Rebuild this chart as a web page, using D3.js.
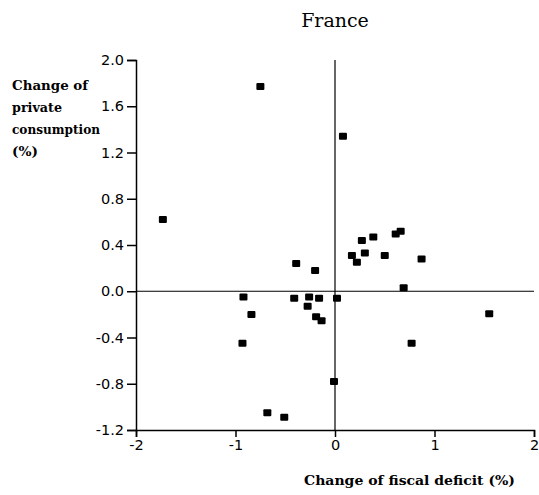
<!DOCTYPE html>
<html lang="en">
<head>
  <meta charset="UTF-8" />
  <title>France</title>
  <script src="https://d3js.org/d3.v7.min.js"></script>
  <style>
    body { margin: 0; background: white; }
    .tick text { font-family: "DejaVu Sans", Verdana, sans-serif; font-size: 14.5px; fill: black; }
    .axis path, .axis line { stroke: black; stroke-width: 1.5; }
    .label { font-family: "DejaVu Serif", serif; font-weight: bold; }
  </style>
</head>
<body>
  <div id="chart"></div>
  <script>
    // --- data: change of fiscal deficit (x) vs change of private consumption (y) ---
    const deficit = [-0.75, 0.08, -1.73, -0.39, -0.20, 0.27, 0.385, 0.61, 0.66, 0.17,
                     0.22, 0.30, 0.50, 0.87, 0.69, 1.55, -0.41, -0.26, -0.16, 0.02,
                     -0.275, -0.19, -0.135, 0.77, -0.01, -0.51, -0.92, -0.84, -0.93, -0.68];
    const consumption = [1.77, 1.34, 0.62, 0.24, 0.18, 0.44, 0.47, 0.495, 0.52, 0.31,
                         0.25, 0.33, 0.31, 0.28, 0.03, -0.195, -0.06, -0.05, -0.06, -0.06,
                         -0.13, -0.22, -0.255, -0.45, -0.78, -1.09, -0.05, -0.20, -0.45, -1.05];
    const xTicks = [-2, -1, 0, 1, 2];
    const yTicks = [-1.2, -0.8, -0.4, 0.0, 0.4, 0.8, 1.2, 1.6, 2.0];
    const yLabel = ["Change of", "private", "consumption", "(%)"];

    const points = deficit.map((d, i) => ({ x: d, y: consumption[i] }));

    // plain hyphen for negative numbers, like the original
    const locale = d3.formatLocale({ decimal: ".", thousands: ",", grouping: [3], currency: ["", ""], minus: "-" });

    const W = 539, H = 495;
    const svg = d3.select("#chart").append("svg")
      .attr("width", W).attr("height", H);

    const x = d3.scaleLinear().domain([-2, 2]).range([136, 534]);
    const y = d3.scaleLinear().domain([-1.2, 2.0]).range([430, 60]);

    // --- axes ---
    svg.append("g").attr("class", "axis")
      .attr("transform", `translate(${x(-2)},0)`)
      .call(d3.axisLeft(y).tickValues(yTicks).tickFormat(locale.format(".1f"))
        .tickSizeOuter(0).tickSize(9).tickPadding(3));

    svg.append("g").attr("class", "axis")
      .attr("transform", `translate(0,${y(-1.2)})`)
      .call(d3.axisBottom(x).tickValues(xTicks).tickFormat(locale.format("d"))
        .tickSizeOuter(0).tickSize(7).tickPadding(3));

    // --- zero cross lines ---
    svg.append("line")
      .attr("x1", x(-2)).attr("x2", x(2))
      .attr("y1", y(0)).attr("y2", y(0))
      .attr("stroke", "black").attr("stroke-width", 1.2);
    svg.append("line")
      .attr("x1", x(0)).attr("x2", x(0))
      .attr("y1", y(2.0)).attr("y2", y(-1.2))
      .attr("stroke", "black").attr("stroke-width", 1.2);

    // --- markers ---
    svg.selectAll(".dot").data(points).enter().append("rect")
      .attr("class", "dot")
      .attr("x", d => x(d.x) - 4)
      .attr("y", d => y(d.y) - 3.5)
      .attr("width", 8).attr("height", 7)
      .attr("rx", 1)
      .attr("fill", "black");

    // --- title and labels ---
    svg.append("text")
      .attr("x", x(0)).attr("y", 27)
      .attr("text-anchor", "middle")
      .style("font-family", "'DejaVu Serif', serif")
      .style("font-size", "19px")
      .text("France");

    const yLabelWidths = [76, 50, 88, 26];
    svg.append("g").selectAll("text").data(yLabel).enter().append("text")
      .attr("class", "label")
      .style("font-size", "12.5px")
      .attr("x", 12)
      .attr("y", (d, i) => 90 + i * 22)
      .attr("textLength", (d, i) => yLabelWidths[i])
      .attr("lengthAdjust", "spacingAndGlyphs")
      .text(d => d);

    svg.append("text").attr("class", "label")
      .style("font-size", "13.5px")
      .attr("x", 304).attr("y", 485)
      .attr("textLength", 211)
      .attr("lengthAdjust", "spacingAndGlyphs")
      .text("Change of fiscal deficit (%)");
  </script>
</body>
</html>
